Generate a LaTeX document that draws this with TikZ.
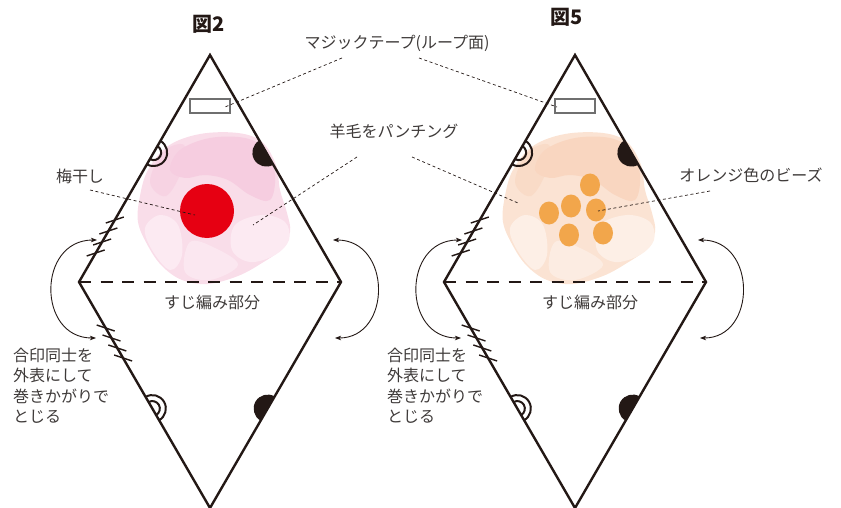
\documentclass[tikz,border=0pt]{standalone}
\usepackage{fontspec}
\newfontfamily\jp{Noto Sans CJK JP}
\usetikzlibrary{arrows.meta,calc}

\definecolor{ink}{HTML}{231815}
\definecolor{txt}{HTML}{3E3A39}
\definecolor{tapegray}{HTML}{6F6F6F}
\definecolor{umeboshi}{HTML}{E60012}
\definecolor{bead}{HTML}{F2A64B}
\definecolor{pink-a}{HTML}{F9DDE9}
\definecolor{pink-b}{HTML}{F6CDE0}
\definecolor{pink-c}{HTML}{FCEAF2}
\definecolor{peach-a}{HTML}{FBE3D3}
\definecolor{peach-b}{HTML}{F9D6C0}
\definecolor{peach-c}{HTML}{FDEFE6}

\tikzset{
  edge/.style={draw=ink, line width=2.4pt, line join=miter},
  fold/.style={draw=ink, line width=2.6pt, dash pattern=on 12pt off 9.5pt},
  leader/.style={draw=ink, line width=0.7pt, dash pattern=on 3pt off 2.6pt},
  stitch/.style={draw=ink, line width=1.4pt},
  ringline/.style={draw=ink, line width=2pt},
  turn/.style={draw=ink, line width=0.9pt,
    {Stealth[length=6pt,width=4.5pt,inset=1.5pt]}-{Stealth[length=6pt,width=4.5pt,inset=1.5pt]}},
  label/.style={text=txt, inner sep=0pt, font=\jp\fontsize{16}{20.3}\selectfont},
  title/.style={text=ink, inner sep=0pt, font=\jp\bfseries\fontsize{20}{20}\selectfont},
  tapebox/.style={draw=tapegray, fill=white, line width=2pt, minimum width=40pt,
    minimum height=14pt, inner sep=0pt},
}

\begin{document}
\begin{tikzpicture}[x=1pt,y=-1pt]
\useasboundingbox (0,0) rectangle (841,508);

\foreach \dx/\n/\w/\jx/\sx in {0/2/pink/212/13, 365/5/peach/590/387}{
  \begin{scope}[xshift=\dx pt]
    % felted wool
    \fill[fill=\w-a] plot[smooth cycle, tension=0.6] coordinates {
      (168,146) (200,134) (238,133) (262,142) (276,165) (280,190) (287,213)
      (290,232) (280,250) (262,263) (238,276) (208,284) (182,280) (162,266)
      (148,246) (138,222) (140,196) (148,170)};
    \fill[fill=\w-b] plot[smooth cycle, tension=0.6] coordinates {
      (180,150) (210,138) (245,138) (266,150) (275,175) (270,200) (250,195)
      (228,180) (205,175) (185,178) (170,170)};
    \fill[fill=\w-b, opacity=0.6] plot[smooth cycle, tension=0.6] coordinates {
      (150,182) (163,152) (184,145) (182,170) (166,196)};
    \fill[fill=\w-c] plot[smooth cycle, tension=0.6] coordinates {
      (235,225) (262,215) (285,222) (289,240) (275,255) (250,262) (232,250)};
    \fill[fill=\w-c] plot[smooth cycle, tension=0.6] coordinates {
      (160,215) (178,225) (182,255) (170,270) (152,250) (145,228)};
    \fill[fill=\w-c, opacity=0.8] plot[smooth cycle, tension=0.6] coordinates {
      (190,242) (215,248) (238,265) (210,280) (185,272)};

    % the sheet
    \coordinate (top\n) at (210,55);
    \coordinate (left\n) at (79,282);
    \coordinate (right\n) at (341,282);
    \coordinate (bottom\n) at (210,508);
    \draw[edge] (top\n) -- (right\n) -- (bottom\n) -- (left\n) -- cycle;
    \draw[fold] (left\n) -- (right\n);

    % loop side of the tape
    \node[tapebox] (tape\n) at (210,106) {};

    % matching marks
    \coordinate (ringA\n) at ($(top\n)!0.43!(left\n)$);
    \coordinate (ringB\n) at ($(bottom\n)!0.44!(left\n)$);
    \coordinate (dotA\n) at ($(top\n)!0.43!(right\n)$);
    \coordinate (dotB\n) at ($(bottom\n)!0.44!(right\n)$);
    \draw[ringline] (ringA\n) ++(120:13.5) arc[start angle=120, end angle=-60, radius=13.5]
                    (ringA\n) ++(120:7.5) arc[start angle=120, end angle=-60, radius=7.5];
    \draw[ringline] (ringB\n) ++(60:13.5) arc[start angle=60, end angle=-120, radius=13.5]
                    (ringB\n) ++(60:7.5) arc[start angle=60, end angle=-120, radius=7.5];
    \fill[ink] (dotA\n) ++(60:14) arc[start angle=60, end angle=240, radius=14] -- cycle;
    \fill[ink] (dotB\n) ++(120:14) arc[start angle=120, end angle=300, radius=14] -- cycle;

    % whip stitches
    \foreach \y/\x in {220/114.8, 231/108.4, 242/102.1, 253/95.7}
      \draw[stitch] (\x-9,\y+3) -- (\x+9,\y-3);
    \foreach \y/\x in {328/105.7, 338/111.5, 348/117.3, 358/123.1}
      \draw[stitch] (\x-9,\y-3) -- (\x+9,\y+3);

    % folding arrows
    \coordinate (foldL\n) at (97,240);
    \coordinate (foldR\n) at (333,240);
    \draw[turn] (foldL\n) .. controls (37,240) and (37,338) .. (96,338);
    \draw[turn] (foldR\n) .. controls (392,240) and (392,338) .. (335,338);
  \end{scope}

  \node[label] (fold\n) at (\jx,302) {すじ編み部分};
  \node[label, align=left, anchor=north west] (sew\n) at (\sx,348)
    {合印同士を\\外表にして\\巻きかがりで\\とじる};
}

% 図2: umeboshi, 図5: beads
\fill[umeboshi] (207,211) circle[radius=27];
\foreach \x/\y in {590/185, 571/206, 549/213, 596/210, 569/235, 603/233}
  \fill[bead] (\x,\y) ellipse[x radius=10, y radius=11.5];

\node[title] (fig2) at (209,24) {図2};
\node[title] (fig5) at (567,17) {図5};

\node[label] (tape) at (397,43) {マジックテープ(ループ面)};
\coordinate (tapeL) at (342,58);
\coordinate (tapeR) at (419,58);
\draw[leader] (tapeL) -- ($(tape2.east)+(-6,1)$);
\draw[leader] (tapeR) -- ($(tape5.west)+(3,1)$);

\node[label] (wool) at (394,131) {羊毛をパンチング};
\coordinate (woolL) at (357,157);
\coordinate (woolR) at (412,157);
\coordinate (woolL2) at (253,225);
\coordinate (woolR2) at (518,203);
\draw[leader] (woolL) -- (woolL2);
\draw[leader] (woolR) -- (woolR2);

\node[label] (ume) at (80,176) {梅干し};
\coordinate (umeA) at (90,190);
\coordinate (umeB) at (195,215);
\draw[leader] (umeA) -- (umeB);

\node[label] (beads) at (751,175) {オレンジ色のビーズ};
\coordinate (beadsA) at (710,191);
\coordinate (beadsB) at (598,211);
\draw[leader] (beadsA) -- (beadsB);

\end{tikzpicture}
\end{document}
